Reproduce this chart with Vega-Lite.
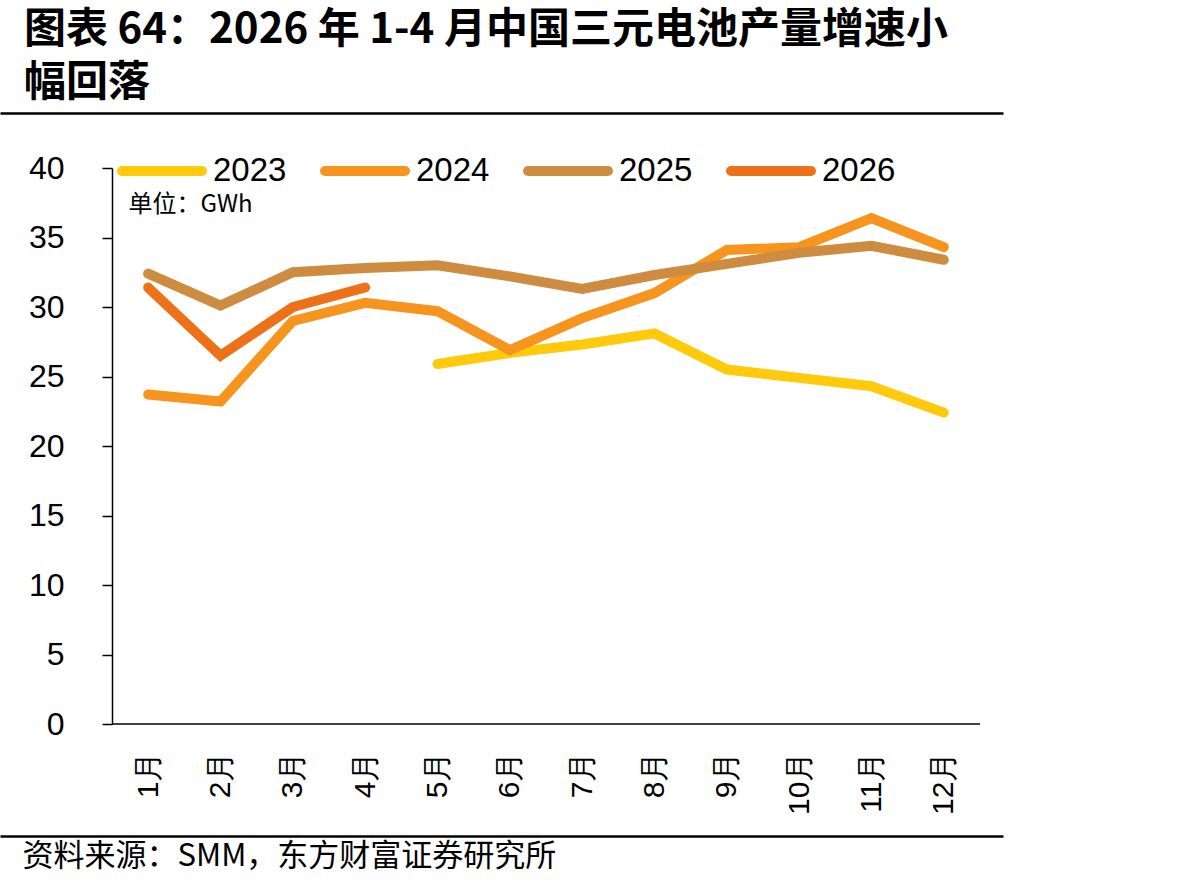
{
  "$schema": "https://vega.github.io/schema/vega-lite/v6.json",
  "autosize": "none",
  "width": 1003,
  "height": 556,
  "padding": {"left": 0, "top": 168, "right": 190, "bottom": 164},
  "background": "white",
  "config": {
    "view": {"stroke": null},
    "font": "Liberation Sans",
    "axis": {"grid": false}
  },
  "title": {
    "text": ["图表 64：2026 年 1-4 月中国三元电池产量增速小", "幅回落"],
    "anchor": "start",
    "font": "Noto Sans CJK SC",
    "fontWeight": "bold",
    "fontSize": 42,
    "lineHeight": 53,
    "color": "#000000",
    "dx": 24,
    "offset": 8
  },
  "layer": [
    {
      "data": {
        "values": [
          {"month": 5, "year": "2023", "value": 25.9},
          {"month": 6, "year": "2023", "value": 26.7},
          {"month": 7, "year": "2023", "value": 27.3},
          {"month": 8, "year": "2023", "value": 28.1},
          {"month": 9, "year": "2023", "value": 25.5},
          {"month": 10, "year": "2023", "value": 24.9},
          {"month": 11, "year": "2023", "value": 24.3},
          {"month": 12, "year": "2023", "value": 22.4},
          {"month": 1, "year": "2024", "value": 23.7},
          {"month": 2, "year": "2024", "value": 23.2},
          {"month": 3, "year": "2024", "value": 29.0},
          {"month": 4, "year": "2024", "value": 30.3},
          {"month": 5, "year": "2024", "value": 29.7},
          {"month": 6, "year": "2024", "value": 26.9},
          {"month": 7, "year": "2024", "value": 29.2},
          {"month": 8, "year": "2024", "value": 31.0},
          {"month": 9, "year": "2024", "value": 34.1},
          {"month": 10, "year": "2024", "value": 34.3},
          {"month": 11, "year": "2024", "value": 36.4},
          {"month": 12, "year": "2024", "value": 34.3},
          {"month": 1, "year": "2025", "value": 32.4},
          {"month": 2, "year": "2025", "value": 30.1},
          {"month": 3, "year": "2025", "value": 32.5},
          {"month": 4, "year": "2025", "value": 32.8},
          {"month": 5, "year": "2025", "value": 33.0},
          {"month": 6, "year": "2025", "value": 32.2},
          {"month": 7, "year": "2025", "value": 31.3},
          {"month": 8, "year": "2025", "value": 32.3},
          {"month": 9, "year": "2025", "value": 33.1},
          {"month": 10, "year": "2025", "value": 33.9},
          {"month": 11, "year": "2025", "value": 34.4},
          {"month": 12, "year": "2025", "value": 33.4},
          {"month": 1, "year": "2026", "value": 31.4},
          {"month": 2, "year": "2026", "value": 26.5},
          {"month": 3, "year": "2026", "value": 30.0},
          {"month": 4, "year": "2026", "value": 31.4}
        ]
      },
      "mark": {"type": "line", "strokeWidth": 10, "strokeCap": "round", "strokeJoin": "miter"},
      "encoding": {
        "x": {
          "field": "month",
          "type": "quantitative",
          "scale": {"domain": [-1.0485, 12.8186], "nice": false, "zero": false},
          "axis": {
            "orient": "bottom",
            "values": [1, 2, 3, 4, 5, 6, 7, 8, 9, 10, 11, 12],
            "labelExpr": "datum.value + '月'",
            "labelAngle": 270,
            "labelAlign": "right",
            "labelBaseline": "middle",
            "labelFont": "Liberation Sans",
            "labelFontSize": 30,
            "labelColor": "#000000",
            "labelPadding": 27,
            "labelOverlap": false,
            "labelFlush": false,
            "labelBound": false,
            "domain": false,
            "ticks": false,
            "title": null
          }
        },
        "y": {
          "field": "value",
          "type": "quantitative",
          "scale": {"domain": [0, 40], "nice": false, "zero": true},
          "axis": {
            "offset": -112,
            "values": [0, 5, 10, 15, 20, 25, 30, 35, 40],
            "domainColor": "#000000",
            "domainWidth": 1.5,
            "tickColor": "#000000",
            "tickWidth": 1.5,
            "tickSize": 10,
            "labelFont": "Liberation Sans",
            "labelFontSize": 32,
            "labelColor": "#000000",
            "labelPadding": 38,
            "labelOverlap": false,
            "labelBound": false,
            "title": "单位：GWh",
            "titleFont": "Noto Sans CJK SC",
            "titleFontSize": 24,
            "titleFontWeight": "normal",
            "titleColor": "#000000",
            "titleAngle": 0,
            "titleAlign": "left",
            "titleBaseline": "top",
            "titleX": 16,
            "titleY": 24
          }
        },
        "color": {
          "field": "year",
          "type": "nominal",
          "scale": {
            "domain": ["2023", "2024", "2025", "2026"],
            "range": ["#FFCA0C", "#F7941E", "#CE8C40", "#EC7118"]
          },
          "legend": {
            "orient": "none",
            "legendX": 117,
            "legendY": -42,
            "direction": "horizontal",
            "title": null,
            "symbolType": "stroke",
            "symbolSize": 6400,
            "symbolStrokeWidth": 10,
            "labelFont": "Liberation Sans",
            "labelFontSize": 33,
            "labelColor": "#000000",
            "labelOffset": 6,
            "columnPadding": 18,
            "encode": {"symbols": {"update": {"strokeCap": {"value": "round"}}}}
          }
        },
        "order": {"field": "month", "type": "quantitative"}
      }
    },
    {
      "data": {"values": [{"kind": "baseline"}]},
      "mark": {"type": "rule", "color": "#000000", "strokeWidth": 1.5},
      "encoding": {
        "x": {"datum": 0.5, "type": "quantitative", "scale": {"domain": [-1.0485, 12.8186], "nice": false, "zero": false}, "axis": null},
        "x2": {"datum": 12.5},
        "y": {"datum": 0, "type": "quantitative"}
      }
    },
    {
      "data": {"values": []},
      "mark": {"type": "rule"},
      "encoding": {
        "x": {
          "field": "r",
          "type": "quantitative",
          "scale": {"domain": [0, 1]},
          "axis": {
            "orient": "top",
            "offset": 55,
            "domainColor": "#000000",
            "domainWidth": 2.5,
            "ticks": false,
            "labels": false,
            "title": null
          }
        }
      }
    },
    {
      "data": {"values": []},
      "mark": {"type": "rule"},
      "encoding": {
        "x": {
          "field": "r",
          "type": "quantitative",
          "scale": {"domain": [0, 1]},
          "axis": {
            "orient": "bottom",
            "offset": 112,
            "domainColor": "#000000",
            "domainWidth": 2.5,
            "ticks": false,
            "labels": false,
            "title": "资料来源：SMM，东方财富证券研究所",
            "titleFont": "Noto Sans CJK SC",
            "titleFontSize": 31,
            "titleFontWeight": "normal",
            "titleColor": "#000000",
            "titleAnchor": "start",
            "titleAlign": "left",
            "titleBaseline": "top",
            "titleX": 22,
            "titleY": 5
          }
        }
      }
    }
  ],
  "resolve": {"scale": {"x": "independent"}, "axis": {"x": "independent"}}
}
